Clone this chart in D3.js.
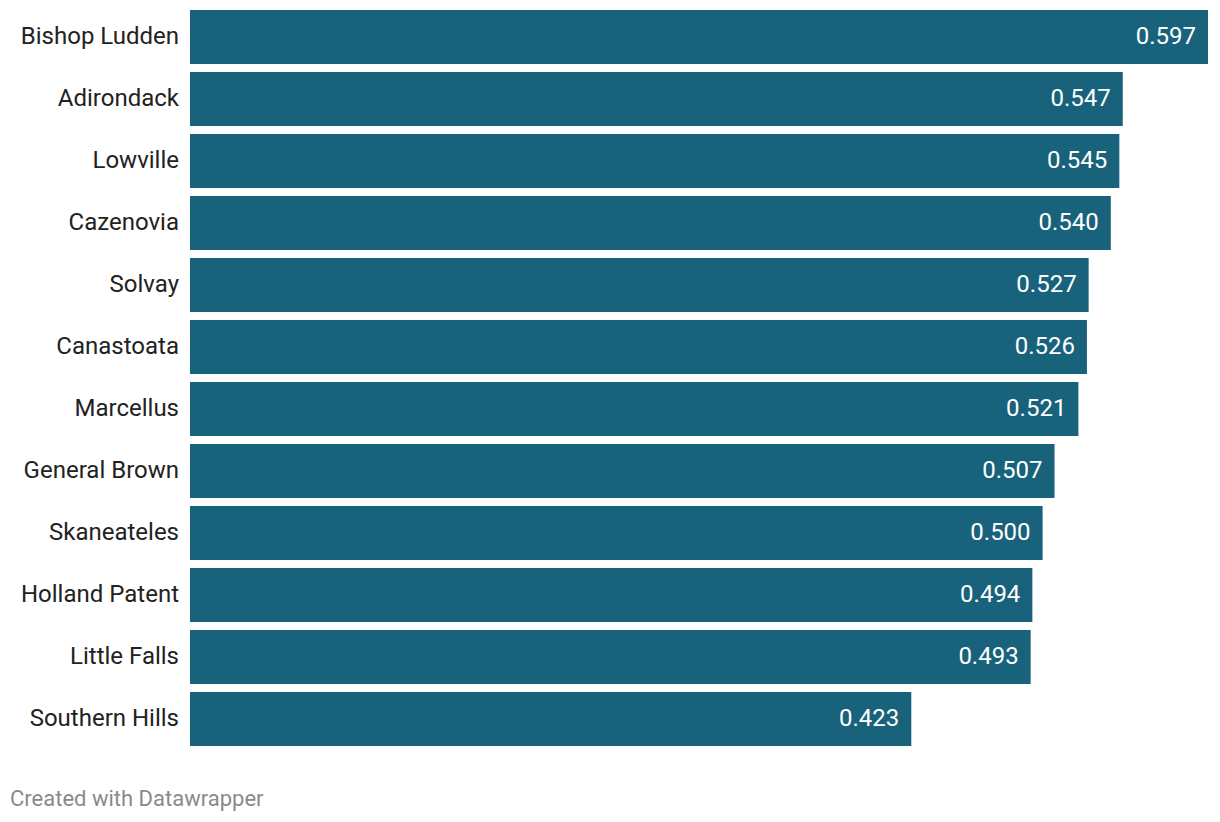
<!DOCTYPE html>
<html><head><meta charset="utf-8">
<script src="https://cdn.jsdelivr.net/npm/d3@7"></script>
<style>body{margin:0;background:#fff}svg{display:block}text{font-family:Roboto,sans-serif}</style>
</head><body>
<script>
const categories = ["Bishop Ludden","Adirondack","Lowville","Cazenovia","Solvay","Canastoata","Marcellus","General Brown","Skaneateles","Holland Patent","Little Falls","Southern Hills"];
const values = [0.597,0.547,0.545,0.540,0.527,0.526,0.521,0.507,0.500,0.494,0.493,0.423];
const W=1220,H=822;
const svg=d3.select("body").append("svg").attr("width",W).attr("height",H);
const x=d3.scaleLinear().domain([0,0.597]).range([190,1208]);
const y=d3.scaleBand().domain(categories).range([10,746]).paddingInner(8/62).paddingOuter(0);
const data=categories.map((c,i)=>({c,v:values[i]}));
svg.selectAll("rect").data(data).join("rect")
 .attr("x",x(0)).attr("y",d=>y(d.c)).attr("width",d=>x(d.v)-x(0)).attr("height",y.bandwidth()).attr("fill","#18627b");
svg.selectAll("text.cat").data(data).join("text").attr("class","cat")
 .attr("x",179).attr("y",d=>y(d.c)+y.bandwidth()/2).attr("dy","0.3em").attr("text-anchor","end")
 .attr("font-size",24).attr("fill","#222").text(d=>d.c);
svg.selectAll("text.val").data(data).join("text").attr("class","val")
 .attr("x",d=>x(d.v)-12).attr("y",d=>y(d.c)+y.bandwidth()/2).attr("dy","0.3em").attr("text-anchor","end")
 .attr("font-size",24).attr("fill","#fff").text(d=>d3.format(".3f")(d.v));
svg.append("text").attr("x",10).attr("y",806).attr("font-size",22).attr("fill","#8a8a8a").text("Created with Datawrapper");
</script>
</body></html>
